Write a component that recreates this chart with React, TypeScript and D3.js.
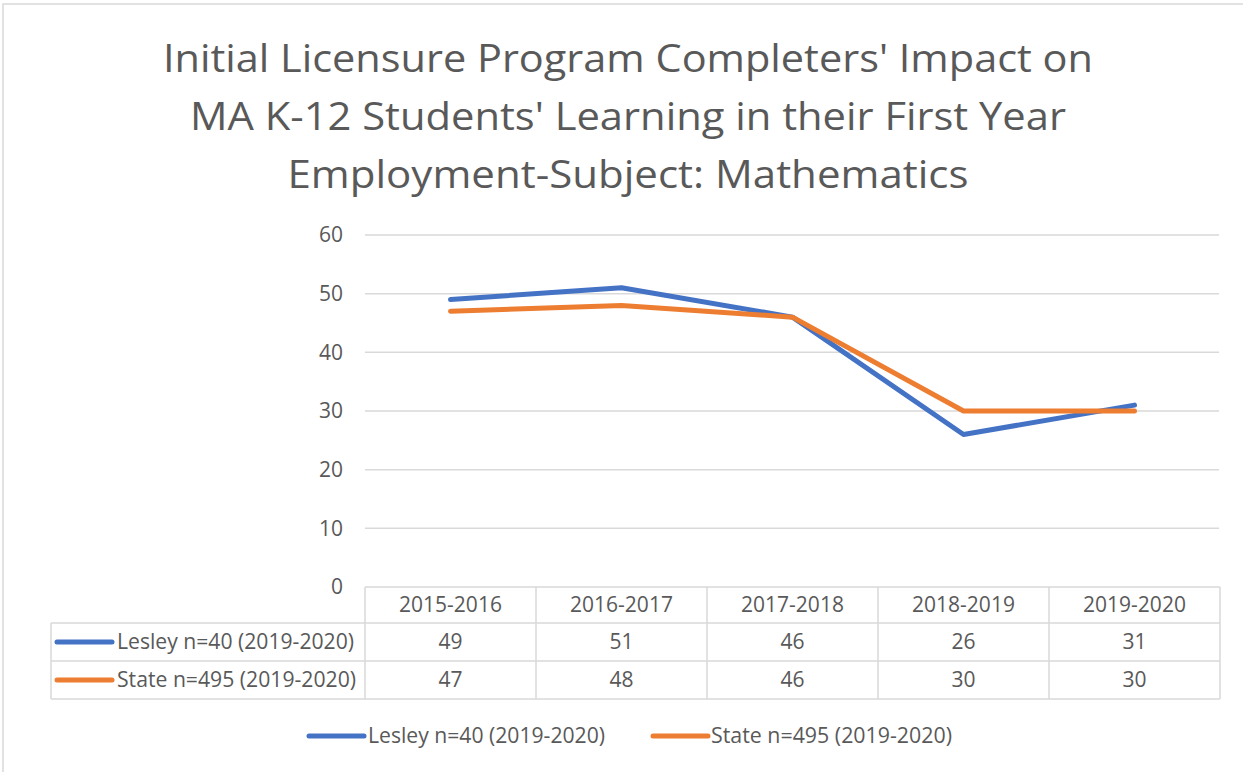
import React from "react";
import * as d3 from "d3";

const categories = ["2015-2016", "2016-2017", "2017-2018", "2018-2019", "2019-2020"];
const lesley = [49, 51, 46, 26, 31];
const state = [47, 48, 46, 30, 30];
const seriesNames = ["Lesley n=40 (2019-2020)", "State n=495 (2019-2020)"];
const yTicks = [0, 10, 20, 30, 40, 50, 60];
const titleLines = [
  "Initial Licensure Program Completers' Impact on",
  "MA K-12 Students' Learning in their First Year",
  "Employment-Subject: Mathematics",
];
const titleWidths = [930, 876, 681];

const colors = ["#4472C4", "#ED7D31"];
const textColor = "#595959";
const gridColor = "#D9D9D9";
const font = "'Open Sans', 'Noto Sans', sans-serif";

export default function App() {
  const W = 1243, H = 772;
  const x = d3.scaleBand<string>().domain(categories).range([365, 1220]).padding(0);
  const y = d3.scaleLinear().domain([0, 60]).range([587, 235]);
  const cx = (c: string) => (x(c) as number) + x.bandwidth() / 2;
  const series = [lesley, state];
  const line = d3
    .line<number>()
    .x((_, i) => cx(categories[i]))
    .y((d) => y(d));

  const tableTop = y(0);
  const rowH = [36, 38, 38];
  const rowTops = [tableTop, tableTop + rowH[0], tableTop + rowH[0] + rowH[1]];
  const tableBottom = rowTops[2] + rowH[2];
  const tableLeft = 51;
  const tableRight = 1220;

  return (
    <svg width={W} height={H} style={{ position: "absolute", left: 0, top: 0, background: "#fff" }}>
      <rect x={3} y={4} width={1250} height={800} fill="#fff" stroke={gridColor} strokeWidth={1.5} />
      {titleLines.map((t, i) => (
        <text
          key={i}
          x={628}
          y={72 + i * 58}
          textAnchor="middle"
          fontFamily={font}
          fontSize={39}
          fill={textColor}
          textLength={titleWidths[i]}
          lengthAdjust="spacingAndGlyphs"
        >
          {t}
        </text>
      ))}
      {yTicks.map((t) => (
        <g key={t}>
          {t > 0 && (
            <line x1={365} x2={1219} y1={y(t)} y2={y(t)} stroke={gridColor} strokeWidth={1.5} />
          )}
          <text
            x={343}
            y={y(t)}
            dy="0.35em"
            textAnchor="end"
            fontFamily={font}
            fontSize={21}
            fill={textColor}
          >
            {t}
          </text>
        </g>
      ))}
      {series.map((s, i) => (
        <path
          key={i}
          d={line(s) as string}
          fill="none"
          stroke={colors[i]}
          strokeWidth={5}
          strokeLinecap="round"
          strokeLinejoin="round"
        />
      ))}
      {/* data table */}
      <g stroke={gridColor} strokeWidth={1.5} fill="none">
        <line x1={365} x2={tableRight} y1={rowTops[0]} y2={rowTops[0]} />
        <line x1={tableLeft} x2={tableRight} y1={rowTops[1]} y2={rowTops[1]} />
        <line x1={tableLeft} x2={tableRight} y1={rowTops[2]} y2={rowTops[2]} />
        <line x1={tableLeft} x2={tableRight} y1={tableBottom} y2={tableBottom} />
        <line x1={tableLeft} x2={tableLeft} y1={rowTops[1]} y2={tableBottom} />
        {categories.map((c) => (
          <line key={c} x1={x(c) as number} x2={x(c) as number} y1={rowTops[0]} y2={tableBottom} />
        ))}
        <line x1={tableRight} x2={tableRight} y1={rowTops[0]} y2={tableBottom} />
      </g>
      {categories.map((c) => (
        <text
          key={c}
          x={cx(c)}
          y={rowTops[0] + rowH[0] / 2}
          dy="0.35em"
          textAnchor="middle"
          fontFamily={font}
          fontSize={21}
          fill={textColor}
        >
          {c}
        </text>
      ))}
      {series.map((s, i) => {
        const top = rowTops[i + 1];
        const mid = top + rowH[i + 1] / 2;
        return (
          <g key={i}>
            <line x1={57} x2={112} y1={mid} y2={mid} stroke={colors[i]} strokeWidth={5} strokeLinecap="round" />
            <text
              x={117}
              y={mid}
              dy="0.35em"
              fontFamily={font}
              fontSize={21}
              fill={textColor}
              textLength={i === 0 ? 237 : 239}
              lengthAdjust="spacingAndGlyphs"
            >
              {seriesNames[i]}
            </text>
            {s.map((v, j) => (
              <text
                key={j}
                x={cx(categories[j])}
                y={mid}
                dy="0.35em"
                textAnchor="middle"
                fontFamily={font}
                fontSize={21}
                fill={textColor}
              >
                {v}
              </text>
            ))}
          </g>
        );
      })}
      {/* legend */}
      {[
        { lx: 309, tx: 368, tw: 237 },
        { lx: 653, tx: 711, tw: 241 },
      ].map((p, i) => (
        <g key={i}>
          <line x1={p.lx} x2={p.lx + 55} y1={736} y2={736} stroke={colors[i]} strokeWidth={5} strokeLinecap="round" />
          <text
            x={p.tx}
            y={736}
            dy="0.35em"
            fontFamily={font}
            fontSize={21}
            fill={textColor}
            textLength={p.tw}
            lengthAdjust="spacingAndGlyphs"
          >
            {seriesNames[i]}
          </text>
        </g>
      ))}
    </svg>
  );
}
